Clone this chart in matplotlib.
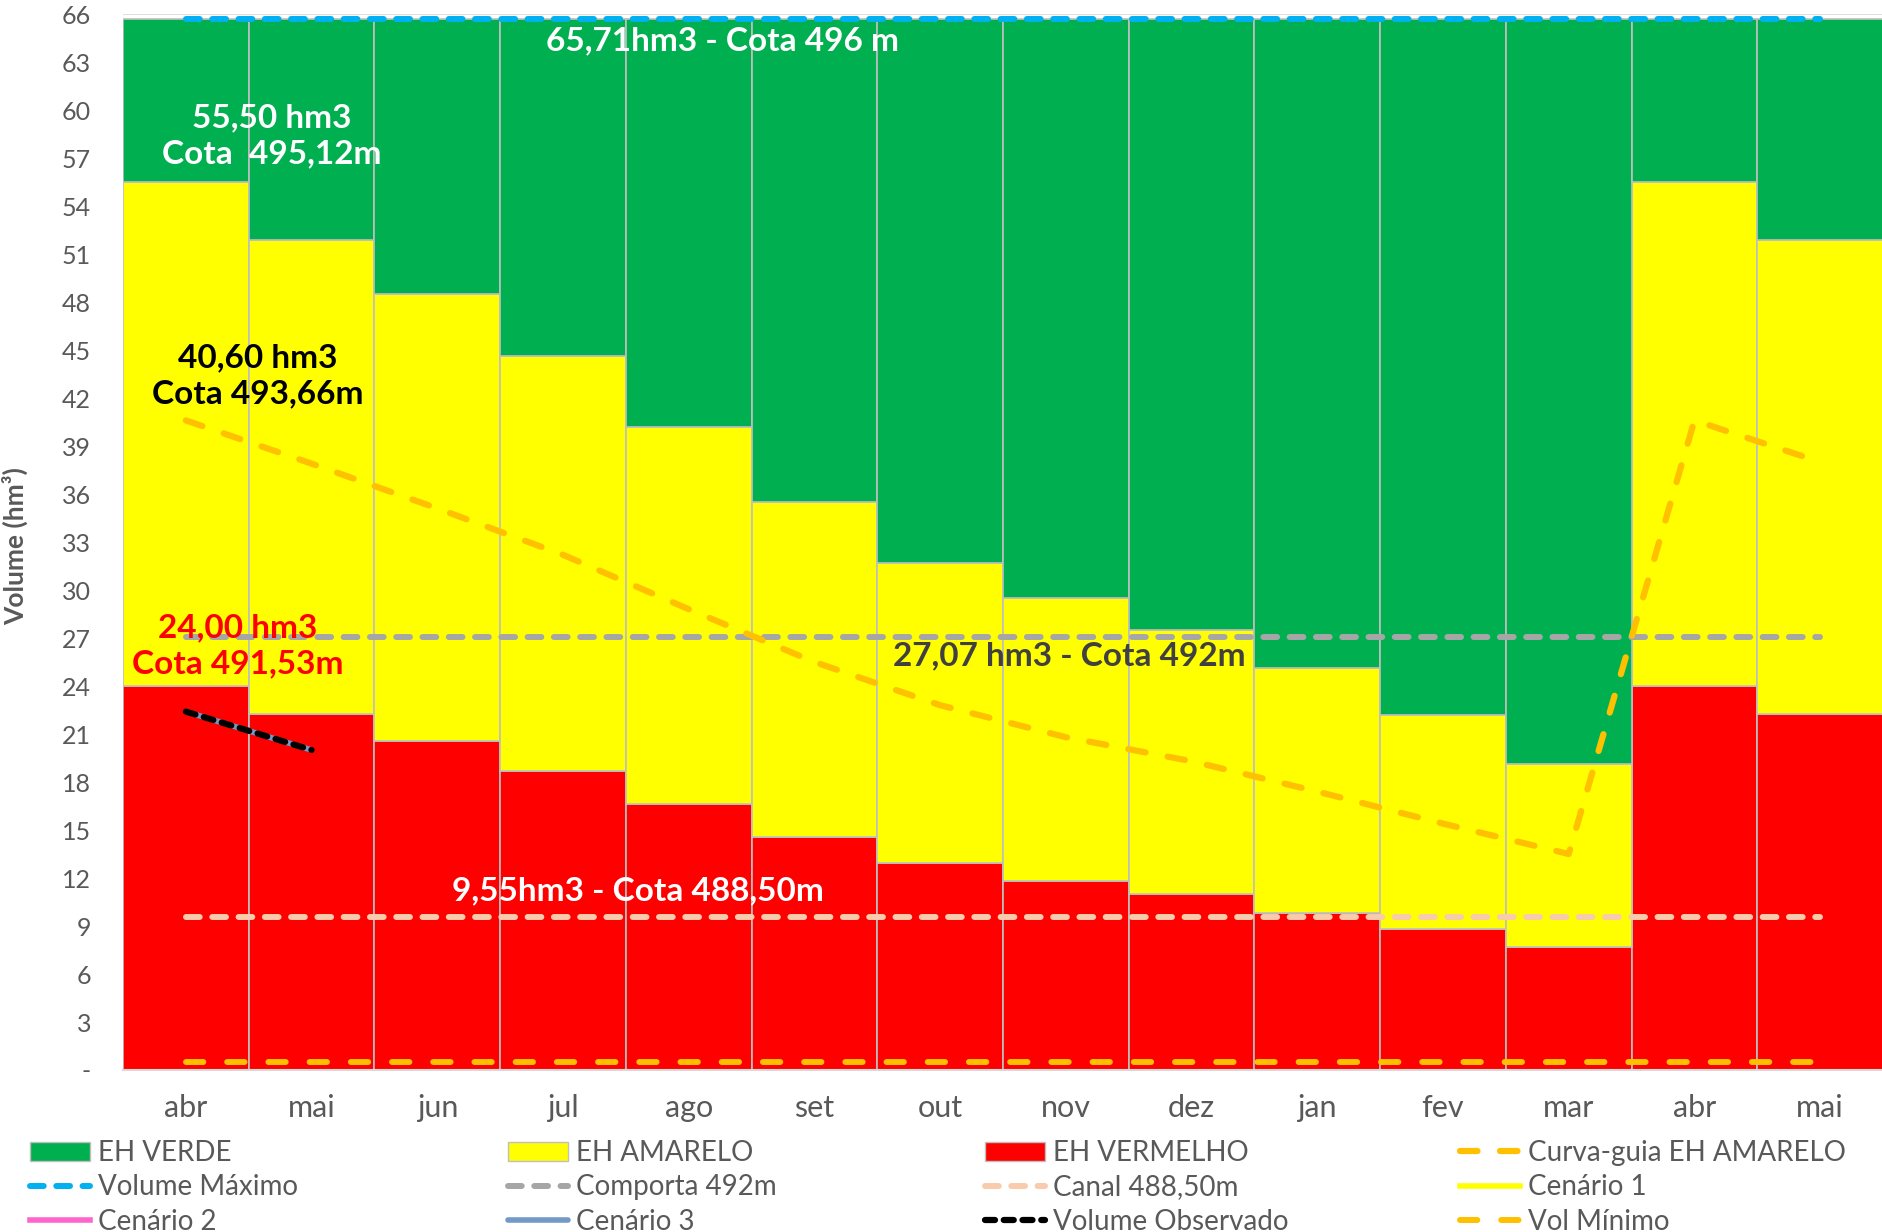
import matplotlib.pyplot as plt
from matplotlib.lines import Line2D
from matplotlib.patches import Patch
import numpy as np

plt.rcParams['font.family'] = ['Lato', 'DejaVu Sans']

meses = ["abr", "mai", "jun", "jul", "ago", "set", "out", "nov", "dez", "jan", "fev", "mar", "abr", "mai"]
vol_maximo = 65.71
topo_vermelho = [24.0, 22.24, 20.58, 18.7, 16.6, 14.56, 12.94, 11.8, 10.97, 9.8, 8.8, 7.7, 24.0, 22.24]
topo_amarelo = [55.5, 51.9, 48.5, 44.6, 40.2, 35.5, 31.7, 29.5, 27.5, 25.1, 22.2, 19.1, 55.5, 51.9]
curva_guia = [40.6, 37.9, 35.1, 32.2, 28.8, 25.5, 22.8, 20.8, 19.3, 17.4, 15.4, 13.5, 40.6, 38.0]
comporta = 27.07
canal = 9.55
vol_minimo = 0.5
vol_observado = [22.4, 20.0]
cenario1 = []
cenario2 = []
cenario3 = [22.4, 20.0]

W, H = 1883, 1232
fig = plt.figure(figsize=(W / 100, H / 100), dpi=100)
ax = fig.add_axes([123 / W, 1 - 1070 / H, 1 - 123 / W, (1070 - 14) / H])

x = np.arange(len(meses))
red = np.array(topo_vermelho)
yel = np.array(topo_amarelo)
edge = '#BFBFBF'
ax.bar(x, red, width=1, color='#FF0000', edgecolor=edge, lw=1.2, zorder=2)
ax.bar(x, yel - red, bottom=red, width=1, color='#FFFF00', edgecolor=edge, lw=1.2, zorder=2)
ax.bar(x, vol_maximo - yel, bottom=yel, width=1, color='#00B050', edgecolor=edge, lw=1.2, zorder=2)

# linhas de referencia
xs = [x[0], x[-1]]
st_max = dict(color='#00B0F0', lw=4.3, dashes=(2.3, 2.1), dash_capstyle='round')
st_comp = dict(color='#A6A6A6', lw=4.3, dashes=(2.3, 2.1), dash_capstyle='round')
st_canal = dict(color='#F8CBAD', lw=4.3, dashes=(2.3, 2.1), dash_capstyle='round')
st_min = dict(color='#FFC000', lw=4.3, dashes=(2.9, 4.0), dash_capstyle='round')
st_guia = dict(color='#FFC000', lw=4.5, dashes=(2.8, 3.6), dash_capstyle='round')
st_obs = dict(color='black', lw=4.5, dashes=(1.6, 1.4), dash_capstyle='round')
st_c1 = dict(color='#FFFF00', lw=4)
st_c2 = dict(color='#FF66CC', lw=4)
st_c3 = dict(color='#7399C6', lw=4, solid_capstyle='round')

ax.plot(xs, [vol_maximo] * 2, zorder=4, **st_max)
ax.plot(xs, [comporta] * 2, zorder=4, **st_comp)
ax.plot(xs, [canal] * 2, zorder=4, **st_canal)
ax.plot(xs, [vol_minimo] * 2, zorder=4, **st_min)
ax.plot(x, curva_guia, zorder=4, **st_guia)
ax.plot(x[:len(cenario1)], cenario1, zorder=4, **st_c1)
ax.plot(x[:len(cenario2)], cenario2, zorder=4, **st_c2)
ax.plot(x[:len(cenario3)], cenario3, zorder=4, **st_c3)
ax.plot(x[:len(vol_observado)], vol_observado, zorder=5, **st_obs)

# textos
tb = dict(fontsize=24, fontweight='bold', ha='center', va='center', zorder=6)
ax.text(4.27, 64.3, "65,71hm3 - Cota 496 m", color='white', **tb)
ax.text(0.685, 58.4, "55,50 hm3\nCota  495,12m", color='white', linespacing=1.3, **tb)
ax.text(0.574, 43.4, "40,60 hm3\nCota 493,66m", color='black', linespacing=1.3, **tb)
ax.text(0.41, 26.5, "24,00 hm3\nCota 491,53m", color='#FF0000', linespacing=1.3, **tb)
ax.text(7.03, 25.9, "27,07 hm3 - Cota 492m", color='#404040', **tb)
ax.text(3.6, 11.2, "9,55hm3 - Cota 488,50m", color='white', **tb)

ax.set_xlim(-0.5, 13.5)
ax.set_ylim(0, 66)
ax.set_yticks(range(0, 67, 3))
ax.set_yticklabels(['-'] + [str(v) for v in range(3, 67, 3)])
ax.set_xticks(x)
ax.set_xticklabels(meses)
ax.tick_params(axis='both', length=0, labelcolor='#595959')
ax.tick_params(axis='y', pad=23, labelsize=18)
ax.tick_params(axis='x', pad=17, labelsize=22)
ax.yaxis.grid(True, color='#D9D9D9', lw=1.2, zorder=0)
for s in ['left', 'right', 'top']:
    ax.spines[s].set_visible(False)
ax.spines['bottom'].set_color('#D9D9D9')
ax.spines['bottom'].set_linewidth(1.5)
ax.set_axisbelow(True)
fig.text(15 / W, 1 - 546 / H, "Volume (hm³)", rotation=90, ha='center', va='center',
         fontsize=19, fontweight='bold', color='#595959')

# legenda
cols = [
    [Patch(facecolor='#00B050', edgecolor=edge, label='EH VERDE'),
     Line2D([], [], label='Volume Máximo', **st_max),
     Line2D([], [], label='Cenário 2', **st_c2)],
    [Patch(facecolor='#FFFF00', edgecolor=edge, label='EH AMARELO'),
     Line2D([], [], label='Comporta 492m', **st_comp),
     Line2D([], [], label='Cenário 3', **st_c3)],
    [Patch(facecolor='#FF0000', edgecolor=edge, label='EH VERMELHO'),
     Line2D([], [], label='Canal 488,50m', **st_canal),
     Line2D([], [], label='Volume Observado', **st_obs)],
    [Line2D([], [], label='Curva-guia EH AMARELO', **st_guia),
     Line2D([], [], label='Cenário 1', **st_c1),
     Line2D([], [], label='Vol Mínimo', **st_min)],
]
col_x = [30, 508, 985, 1460]
for cx, hs in zip(col_x, cols):
    fig.legend(handles=hs, loc='upper left', bbox_to_anchor=(cx / W, 1 - 1140 / H),
               frameon=False, fontsize=20, labelcolor='#595959', handlelength=2.15,
               handletextpad=0.3, labelspacing=0.3, borderpad=0, borderaxespad=0)

fig.savefig('out.png', dpi=100)
